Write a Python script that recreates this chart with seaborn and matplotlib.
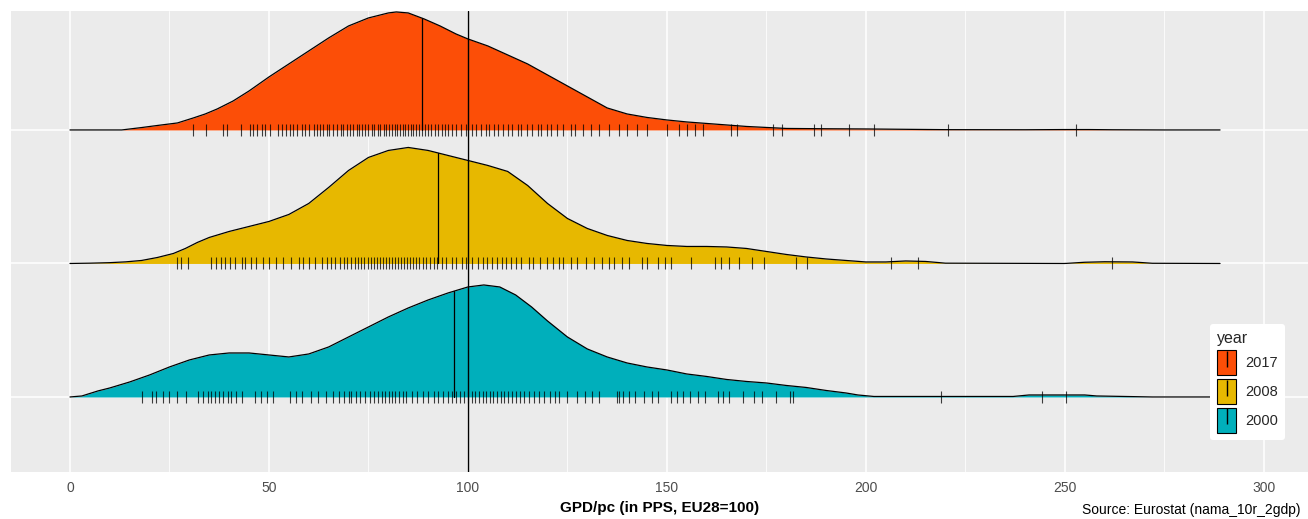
import numpy as np
import pandas as pd
import matplotlib
matplotlib.use("Agg")
import matplotlib.pyplot as plt
import seaborn as sns
from matplotlib.patches import Patch
from matplotlib.lines import Line2D

# ---------------- data ----------------
years = ["2017", "2008", "2000"]
colors = {"2017": "#FC4E07", "2008": "#E7B800", "2000": "#00AFBB"}
baselines = {"2017": 3, "2008": 2, "2000": 1}

# density curve (x in GDP/pc, height in picture units)
x_2017 = [0, 13, 18, 22, 27, 31, 34, 37, 41, 45, 50, 55, 60, 65, 70, 75, 80, 82, 85, 89, 93, 97, 100,
          105, 110, 115, 120, 125, 130, 135, 140, 145, 150, 155, 160, 165, 170, 175, 180, 190, 200,
          211, 220, 240, 250, 256, 262, 275, 289]
h_2017 = [0, 0, 2.4, 4.5, 7, 12, 16, 21, 29, 39, 53, 66, 79, 92, 104, 112, 117, 118, 117, 111, 104, 96, 91,
          84, 75, 66, 55, 44, 33, 22, 16, 12.5, 10, 8, 6.5, 5, 3.5, 2.5, 1.5, 1.2, 1,
          0.6, 0.3, 0.2, 0.4, 0.4, 0.2, 0, 0]

x_2008 = [0, 5, 10, 14, 18, 22, 26, 29, 32, 35, 40, 45, 50, 55, 60, 65, 70, 75, 80, 85, 90, 95, 100,
          105, 110, 115, 120, 125, 130, 135, 140, 145, 150, 155, 160, 165, 170, 175, 180, 185, 190,
          195, 200, 205, 210, 215, 220, 250, 255, 260, 267, 272, 289]
h_2008 = [0, 0.3, 0.8, 1.6, 3, 6, 10, 15, 21, 26, 32, 37, 42, 49, 60, 76, 93, 106, 113, 116, 113, 108, 103,
          98, 92, 78, 60, 45, 35, 28, 23, 20, 18, 17, 17, 16.5, 15, 12, 9, 6.5, 4.5,
          3, 1.5, 1.5, 2.5, 2, 0.3, 0, 1.2, 1.7, 1.5, 0.2, 0]

x_2000 = [0, 3, 7, 10, 15, 20, 25, 30, 35, 40, 45, 50, 55, 60, 65, 70, 75, 80, 85, 90, 95, 100, 104,
          108, 112, 116, 120, 125, 130, 135, 140, 145, 150, 155, 160, 165, 170, 175, 180, 185, 190,
          195, 198, 202, 237, 241, 250, 255, 258, 265, 272, 289]
h_2000 = [0, 1, 6, 9, 15, 22, 30, 37, 42, 44, 44, 42, 40, 43, 50, 60, 70, 80, 89, 97, 104, 110, 112,
          110, 102, 90, 76, 60, 48, 40, 34, 30, 27, 23, 20.5, 17.5, 15.5, 14, 11.5, 9.5, 6.5,
          4, 2, 0.5, 0.5, 2, 2, 2, 1, 0.5, 0, 0]

medians = {"2017": 88.5, "2008": 92.5, "2000": 96.5}
ref_line = 100

rug_2017 = [31, 34.3, 38.5, 39.4, 43, 45.2, 45.9, 46.9, 48.2, 49, 50.3, 52.3, 53.2, 54.4, 55.3, 56.1, 57,
            58.2, 59, 60.1, 61.3, 62, 62.8, 63.5, 64.6, 65.2, 66, 67.1, 68, 68.7, 69.5, 70.3, 71.2, 72,
            72.6, 73.4, 74.2, 75, 75.8, 76.5, 77.3, 78, 78.8, 79.4, 80.1, 80.9, 81.6, 82.3, 83, 83.6,
            84.3, 85, 85.6, 86.2, 86.9, 87.6, 88.4, 89.2, 90, 90.8, 91.7, 92.5, 93.4, 94.3, 95.1, 96, 97,
            98.3, 99.5, 101, 102, 103.2, 104.5, 105.3, 106.6, 107.5, 108.8, 110, 111.2, 112.5, 113.3,
            114.8, 116, 117.5, 118.3, 119.8, 121, 122.5, 124, 125.8, 127, 129, 131, 133, 135.5, 138,
            140, 142.5, 145, 150, 153, 155, 157, 159, 166, 167.6, 176.6, 179, 187, 188.7, 195.7, 202,
            220.6, 252.8]
rug_2008 = [26.8, 27.8, 29.6, 35.4, 36.8, 38, 38.9, 40.1, 41.5, 43.2, 44, 45.5, 46.8, 48.4, 50, 51.8, 53.5,
            55.6, 57.5, 58.6, 60, 61.5, 63.3, 64.5, 65.6, 66.7, 67.9, 68.8, 69.7, 70.6, 71.5, 72.3, 73.2,
            74, 74.8, 75.6, 76.4, 77.2, 78, 78.7, 79.5, 80.2, 81, 81.7, 82.4, 83.1, 83.9, 84.6, 85.4,
            86.1, 86.9, 87.8, 88.6, 89.5, 90.4, 91.4, 92.3, 93.5, 94.6, 95.9, 97, 98.4, 99.6, 101, 102.5,
            103.8, 104.8, 106, 107.3, 108.5, 109.6, 110.8, 112, 113.4, 115.3, 116.3, 118, 119.8, 121.4,
            123, 124, 125.8, 127.5, 129.7, 131.7, 133.7, 135.5, 136.8, 138.6, 140.4, 143.7, 145, 147.7,
            149.5, 151, 156, 162, 163.5, 165.6, 168, 171.4, 174.4, 182.4, 185.3, 206.3, 213, 261.8]
rug_2000 = [18.1, 20.5, 21.5, 23.4, 24.9, 26.8, 29.1, 32.1, 33.5, 34.6, 35.5, 36.5, 37.4, 38.5, 39.6, 40.5,
            41.6, 43.2, 46.5, 48, 49.5, 50.9, 55.2, 56.8, 58.3, 60.5, 62.3, 64.3, 66.2, 67.5, 68.8, 70.1,
            70.6, 71.8, 73, 74.1, 75.3, 76.4, 77.5, 78.4, 79.2, 80.1, 81, 81.8, 82.7, 83.6, 84.5, 86,
            87.3, 88.7, 90, 91.4, 92.6, 93.8, 95, 96.1, 97, 98, 99, 100, 100.9, 101.8, 102.8, 103.7,
            104.6, 105.5, 106.4, 107.3, 108.2, 109, 110, 111, 112, 113, 114.1, 115.3, 116.5, 117.8,
            119.1, 120.5, 122, 123, 125, 127.3, 129.5, 131.2, 133, 137.4, 138, 139, 140.4, 142, 144.2,
            146.2, 147.7, 151, 152.5, 154, 155.8, 157.7, 159.5, 162.8, 164.2, 165.6, 169, 171.9, 174,
            177.4, 181, 181.7, 219, 244.2, 250.4]

x_ticks = [0, 50, 100, 150, 200, 250, 300]
x_title = "GPD/pc (in PPS, EU28=100)"
legend_title = "year"
source_text = "Source: Eurostat (nama_10r_2gdp)"

curves = {"2017": (x_2017, h_2017), "2008": (x_2008, h_2008), "2000": (x_2000, h_2000)}
rugs = {"2017": rug_2017, "2008": rug_2008, "2000": rug_2000}

# ---------------- style ----------------
sns.set_theme(style="darkgrid")
plt.rcParams["font.family"] = ["Liberation Sans Narrow", "Liberation Sans", "DejaVu Sans"]

W, H = 1308, 519
fig = plt.figure(figsize=(W / 100, H / 100), dpi=100)
ax = fig.add_axes([11 / W, 47 / H, 1297 / W, 461 / H])
ax.set_facecolor("#EBEBEB")
for s in ax.spines.values():
    s.set_visible(False)

SCALE = 133.5  # picture units per ridge spacing

for i, yr in enumerate(years):
    xs, hs = curves[yr]
    xs = np.asarray(xs, float)
    hs = np.asarray(hs, float)
    base = baselines[yr]
    top = base + hs / SCALE
    z = 3 + i * 4
    ax.fill_between(xs, base, top, color=colors[yr], lw=0, zorder=z)
    sns.lineplot(x=xs, y=top, color="black", lw=0.9, ax=ax, sort=False,
                 estimator=None, zorder=z + 1)
    m = medians[yr]
    ax.plot([m, m], [base, base + np.interp(m, xs, hs) / SCALE], color="black",
            lw=0.9, zorder=z + 1)
    r = rugs[yr]
    sns.scatterplot(x=r, y=[base] * len(r), marker="|", s=70, color="black",
                    linewidth=0.8, alpha=0.75, ax=ax, zorder=z + 2, legend=False)

ax.axvline(ref_line, color="black", lw=1.0, zorder=30)

ax.set_xlim(-14.82, 311.1)
ax.set_ylim(0.438, 3.891)
ax.set_xticks(x_ticks)
ax.set_xticks([25, 75, 125, 175, 225, 275], minor=True)
ax.set_yticks([1, 2, 3])
ax.set_yticklabels(["", "", ""])
ax.grid(which="major", color="white", lw=1.1)
ax.grid(which="minor", axis="x", color="white", lw=0.55)
ax.tick_params(axis="x", which="major", length=3.5, width=0.8, color="#333333",
               labelcolor="#4D4D4D", labelsize=10, pad=3)
ax.tick_params(axis="x", which="minor", length=0)
ax.tick_params(axis="y", length=3, width=0.8, color="#333333", pad=1)
ax.set_xlabel(x_title, fontsize=11, fontweight="bold", color="black", labelpad=4)
ax.set_ylabel("")

handles = [(Patch(facecolor=colors[yr], edgecolor="black", lw=0.8),
            Line2D([], [], marker="|", color="black", ls="none", markersize=11, mew=1))
           for yr in years]
leg = ax.legend(handles, years, title=legend_title, loc="lower right",
                bbox_to_anchor=(0.988, 0.054), frameon=True, fontsize=10.5,
                title_fontsize=11.5, handlelength=1.3, handleheight=2.2,
                labelspacing=0.3, handletextpad=0.6, borderpad=0.5)
leg.get_frame().set_facecolor("white")
leg.get_frame().set_edgecolor("none")
leg.get_frame().set_alpha(1)
leg._legend_box.align = "left"
leg.set_zorder(40)

fig.text(1300 / W, 2 / H, source_text, fontsize=10, va="bottom", ha="right",
         color="black")

fig.savefig("out.png", dpi=100)
